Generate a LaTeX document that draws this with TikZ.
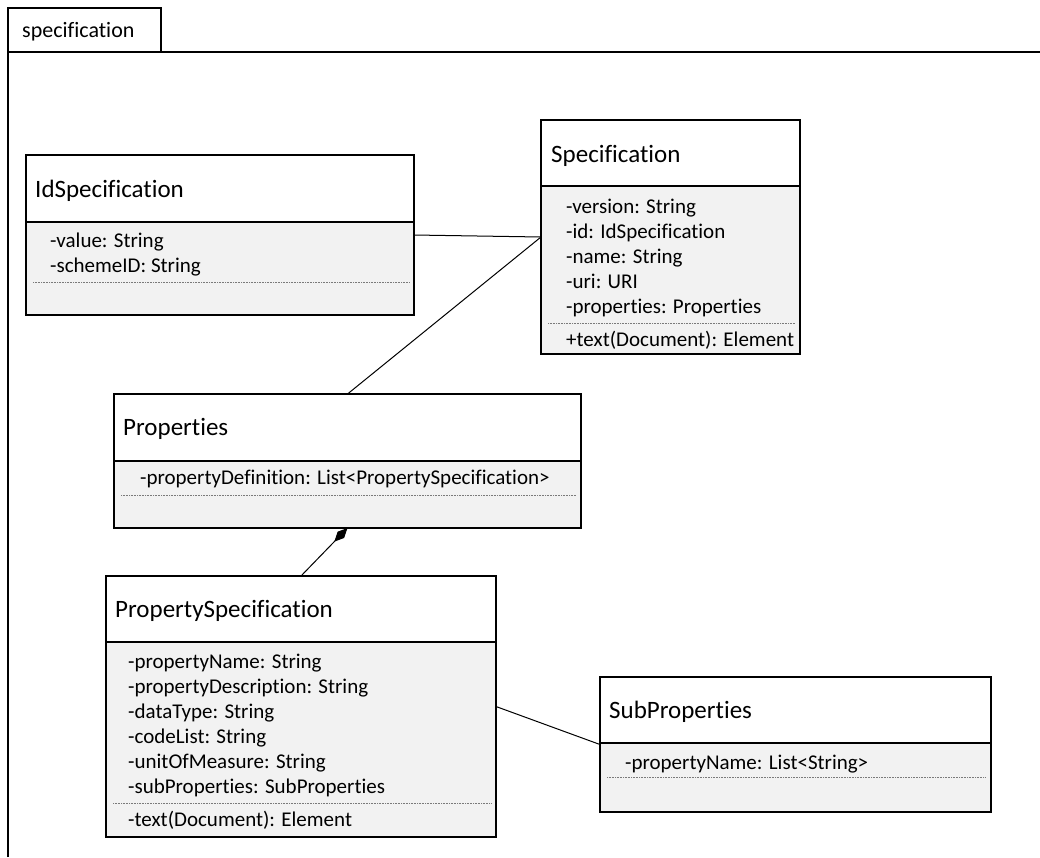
\documentclass[tikz,border=0pt]{standalone}
\usepackage{fontspec}
\setmainfont{Carlito}[Ligatures=NoCommon]
\usetikzlibrary{arrows.meta}

\definecolor{compgray}{HTML}{F2F2F2}
\definecolor{dotgray}{HTML}{7A7A7A}

% one UML class: name, left, top, right, bottom, y of the title/attribute separator
\newcommand{\umlclass}[6]{%
  \node[classbox, minimum width=#4-#2, minimum height=#5-#3, anchor=north west] (#1) at (#2,#3) {};
  \fill[compgray] (#2,#6) rectangle (#4,#5);
  \draw[boxline] (#1.north west) rectangle (#1.south east);
  \draw[boxline] (#2,#6) -- (#4,#6);
}
% dotted compartment divider: left, right, y
\newcommand{\umldivider}[3]{\draw[divider] (#1,#3) -- (#2,#3);}

\begin{document}
\begin{tikzpicture}[x=1pt, y=-1pt,
  classbox/.style={rectangle, draw=black, fill=white, line width=1.3pt, inner sep=0pt, outer sep=0pt},
  boxline/.style={line width=1.3pt, black},
  divider/.style={dotgray, line width=0.6pt, dash pattern=on 0.8pt off 0.8pt},
  title/.style={anchor=base west, font=\fontsize{25}{30}\selectfont, inner sep=0pt},
  attr/.style={anchor=base west, font=\fontsize{21}{25}\selectfont, inner sep=0pt},
  assoc/.style={line width=1pt, black},
  frameline/.style={line width=1.5pt, black}]

\useasboundingbox (0,0) rectangle (1040,857);
\fill[white] (0,0) rectangle (1040,857);

% package frame with its tab
\draw[frameline] (8,857) -- (8,52) -- (1040,52);
\draw[frameline] (8,52) -- (8,8) -- (161,8) -- (161,52);
\node[attr, font=\fontsize{22}{26}\selectfont] (pkgname) at (22,37) {specification};

% IdSpecification
\umlclass{idspec}{26}{155}{414}{315}{222}
\node[title] (idspecT) at (35,197) {IdSpecification};
\node[attr] (idspecA1) at (50,247) {-value: String};
\node[attr] (idspecA2) at (50,272) {-schemeID: String};
\umldivider{33}{410}{282}

% Specification
\umlclass{spec}{541}{120}{800}{354}{186}
\node[title] (specT) at (551,162) {Specification};
\node[attr] (specA1) at (566,213) {-version: String};
\node[attr] (specA2) at (566,238) {-id: IdSpecification};
\node[attr] (specA3) at (566,263) {-name: String};
\node[attr] (specA4) at (566,288) {-uri: URI};
\node[attr] (specA5) at (566,313) {-properties: Properties};
\umldivider{548}{795}{323}
\node[attr] (specM1) at (566,346) {+text(Document): Element};

% Properties
\umlclass{props}{114}{394}{581}{528}{461}
\node[title] (propsT) at (123,435) {Properties};
\node[attr] (propsA1) at (140,484) {-propertyDefinition: List<PropertySpecification>};
\umldivider{121}{576}{495}

% PropertySpecification
\umlclass{propspec}{106}{576}{496}{837}{642}
\node[title] (propspecT) at (115,617) {PropertySpecification};
\node[attr] (propspecA1) at (128,668) {-propertyName: String};
\node[attr] (propspecA2) at (128,693) {-propertyDescription: String};
\node[attr] (propspecA3) at (128,718) {-dataType: String};
\node[attr] (propspecA4) at (128,743) {-codeList: String};
\node[attr] (propspecA5) at (128,768) {-unitOfMeasure: String};
\node[attr] (propspecA6) at (128,793) {-subProperties: SubProperties};
\umldivider{113}{491}{803}
\node[attr] (propspecM1) at (128,826) {-text(Document): Element};

% SubProperties
\umlclass{subprops}{600}{677}{991}{812}{743}
\node[title] (subpropsT) at (609,718) {SubProperties};
\node[attr] (subpropsA1) at (625,769) {-propertyName: List<String>};
\umldivider{607}{986}{777}

% associations
\draw[assoc] (idspec.east) -- (spec.west);
\draw[assoc] (spec.west) -- (props.north);
\draw[assoc, {Diamond[length=19pt, width=9pt]}-] (props.south) -- (propspec.north);
\draw[assoc] (propspec.east) -- (subprops.west);

\end{tikzpicture}
\end{document}
